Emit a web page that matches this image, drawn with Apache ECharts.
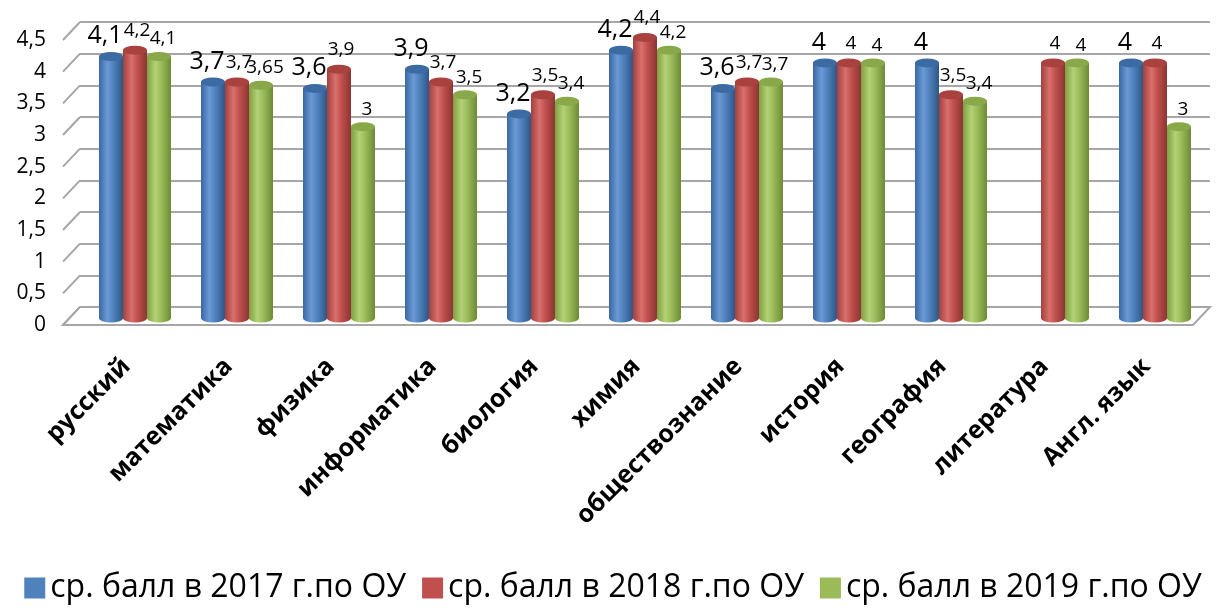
<!DOCTYPE html>
<html>
<head>
<meta charset="utf-8">
<script src="https://cdn.jsdelivr.net/npm/echarts@6/dist/echarts.min.js"></script>
<style>
html,body{margin:0;padding:0;background:#fff;}
#main{width:1226px;height:608px;}
</style>
</head>
<body>
<div id="main"></div>
<script>
const categories = ['русский','математика','физика','информатика','биология','химия','обществознание','история','география','литература','Англ. язык'];
const seriesNames = ['ср. балл в 2017 г.по ОУ','ср. балл в 2018 г.по ОУ','ср. балл в 2019 г.по ОУ'];
const values2017 = [4.1, 3.7, 3.6, 3.9, 3.2, 4.2, 3.6, 4, 4, null, 4];
const values2018 = [4.2, 3.7, 3.9, 3.7, 3.5, 4.4, 3.7, 4, 3.5, 4, 4];
const values2019 = [4.1, 3.65, 3, 3.5, 3.4, 4.2, 3.7, 4, 3.4, 4, 3];
const yTicks = [0, 0.5, 1, 1.5, 2, 2.5, 3, 3.5, 4, 4.5];

const seriesValues = [values2017, values2018, values2019];
const FONT = '"Open Sans", Lato, "Noto Sans", sans-serif';
const fmt = v => String(v).replace('.', ',');

const palettes = [
  {base:'#4F81BD', edgeL:'#3A679F', hi:'#6A9AD6', edgeR:'#2F5686', top:'#3C6AA3'},
  {base:'#C0504D', edgeL:'#A23F3C', hi:'#D8706D', edgeR:'#8C3532', top:'#A9413E'},
  {base:'#9BBB59', edgeL:'#809F43', hi:'#B3D175', edgeR:'#6E8A36', top:'#88A84A'}
];
function grad(p){
  return new echarts.graphic.LinearGradient(0,0,1,0,[
    {offset:0, color:p.edgeL},
    {offset:0.35, color:p.hi},
    {offset:0.6, color:p.base},
    {offset:1, color:p.edgeR}
  ]);
}
const BW = 24;
const labelSizes = [25, 19, 19];
const labelOffsets = [[-6, 0], [2, -2], [4, 0]];
const xShift = [-BW, 0, BW];

const series = [];
seriesValues.forEach((vals, i) => {
  const p = palettes[i];
  series.push({
    name: seriesNames[i], type: 'bar', xAxisIndex: 0, yAxisIndex: 0,
    data: vals, barWidth: BW, barGap: '0%', z: 3,
    itemStyle: {color: grad(p)},
    label: {show: true, position: 'top', distance: 8, offset: labelOffsets[i],
      fontFamily: FONT, fontSize: labelSizes[i], color: '#000',
      formatter: d => fmt(d.value)}
  });
});
seriesValues.forEach((vals, i) => {
  const p = palettes[i];
  series.push({
    name: seriesNames[i], type: 'pictorialBar', xAxisIndex: 0, yAxisIndex: 0,
    data: vals, symbol: 'circle', symbolSize: [BW, 9], symbolPosition: 'end',
    symbolOffset: [xShift[i], '-50%'], barWidth: BW, barGap: '-100%', z: 4,
    itemStyle: {color: p.top}, silent: true
  });
  series.push({
    name: seriesNames[i], type: 'pictorialBar', xAxisIndex: 0, yAxisIndex: 0,
    data: vals, symbol: 'circle', symbolSize: [BW, 9], symbolPosition: 'start',
    symbolOffset: [xShift[i], '50%'], barWidth: BW, barGap: '-100%', z: 2,
    itemStyle: {color: grad(p)}, silent: true
  });
});

// back wall depth lines and floor
const DX = -17, DY = 18;
series.push({
  type: 'custom', xAxisIndex: 1, yAxisIndex: 1, silent: true, z: 0,
  data: yTicks.map(v => [0, v]),
  renderItem: (params, api) => {
    const b = api.coord([0, api.value(1)]);
    return {type: 'line', shape: {x1: b[0], y1: b[1], x2: b[0] + DX, y2: b[1] + DY},
      style: {stroke: '#A6A6A6', lineWidth: 2}};
  }
});
series.push({
  type: 'custom', xAxisIndex: 1, yAxisIndex: 1, silent: true, z: 0,
  data: [[0, 0]],
  renderItem: (params, api) => {
    const l = api.coord([0, 0]);
    const r = api.coord([1, 0]);
    return {type: 'polygon', shape: {points: [l, r, [r[0] + DX, r[1] + DY], [l[0] + DX, l[1] + DY]]},
      style: {fill: '#FFFFFF', stroke: '#A6A6A6', lineWidth: 2}};
  }
});

const option = {
  animation: false,
  backgroundColor: '#fff',
  textStyle: {fontFamily: FONT},
  legend: {
    bottom: -1, left: 'center', itemWidth: 21, itemHeight: 21, itemGap: 16,
    icon: 'rect',
    textStyle: {fontFamily: FONT, fontSize: 32, color: '#000'},
    data: seriesNames.map((n, i) => ({name: n, itemStyle: {color: palettes[i].base}}))
  },
  grid: [
    {left: 84, right: 20, top: 31, bottom: 290},
    {left: 80, right: 16, top: 22, bottom: 301},
    {left: 62, right: 36, top: 40, bottom: 283}
  ],
  xAxis: [
    {type: 'category', gridIndex: 0, data: categories,
      axisLine: {show: false}, axisTick: {show: false},
      axisLabel: {rotate: 45, margin: 36, interval: 0, fontFamily: FONT, fontSize: 25,
        fontWeight: 'bold', color: '#000', padding: [0, 12, 0, 0]}},
    {type: 'value', gridIndex: 1, min: 0, max: 1, show: false},
    {type: 'value', gridIndex: 2, min: 0, max: 1, show: false}
  ],
  yAxis: [
    {type: 'value', gridIndex: 0, min: 0, max: 4.5, interval: 0.5, show: false, splitLine: {show: false}},
    {type: 'value', gridIndex: 1, min: 0, max: 4.5, interval: 0.5,
      axisLine: {show: false}, axisTick: {show: false}, axisLabel: {show: false},
      splitLine: {show: true, lineStyle: {color: '#A6A6A6', width: 2}}},
    {type: 'value', gridIndex: 2, min: 0, max: 4.5, interval: 0.5,
      axisLine: {show: false}, axisTick: {show: false}, splitLine: {show: false},
      axisLabel: {margin: 16, fontFamily: FONT, fontSize: 21, color: '#000', formatter: v => fmt(v)}}
  ],
  series: series
};

const chart = echarts.init(document.getElementById('main'), null, {renderer: 'canvas'});
chart.setOption(option);
</script>
</body>
</html>
